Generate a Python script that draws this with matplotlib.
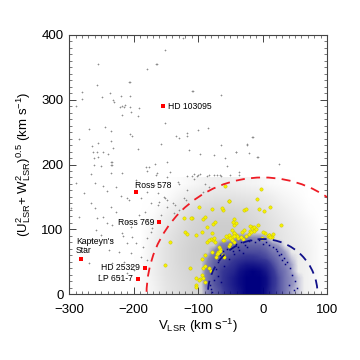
import numpy as np
import matplotlib
matplotlib.use("Agg")
import matplotlib.pyplot as plt
from matplotlib.colors import LinearSegmentedColormap
from matplotlib.patches import Circle

plt.rcParams['font.family'] = ['Liberation Sans', 'DejaVu Sans']
plt.rcParams['mathtext.fontset'] = 'custom'
plt.rcParams['mathtext.rm'] = 'Liberation Sans'
plt.rcParams['mathtext.it'] = 'Liberation Sans:italic'

# halo stars (grey crosses): (V_LSR, sqrt(U^2+W^2))
halo_v = [-123, -151, -256, -180, -165, -205, -257, -280, -280, -289, -249, -236, -232, -230,
          -219, -206, -218, -215, -221, -213, -205, -192, -204, -218, -194, -151, -110, -244,
          -235, -269, -205, -202, -284, -256, -264, -235, -194, -134, -130, -117, -158, -115,
          -263, -257, -247, -240, -232, -262, -255, -235, -235, -149, -101, -167, -207, -164,
          -181, -179, -164, -143, -108, -65, -85, -118, -65, -97, -76, -58, -41, -24, -22, -15,
          -8, 26, -55, -36, -84, -71, -66, -50, -37, -107, -102, -97, -118, -16, -25, -42, -9,
          -261, -250, -233, -233, -266, -235, -218, -289, -260, -277, -247, -241, -227, -220,
          -210, -207, -266, -260, -235, -227, -297, -284, -257, -247, -241, -233, -210, -218,
          -216, -204, -202, -196, -258, -250, -266, -233, -211, -277, -238, -222, -204, -269,
          -233, -215, -204, -253, -222, -211, -199, -188, -180, -186, -180, -191, -183, -179,
          -171, -173, -163, -160, -151, -148, -153, -148, -139, -136, -163, -157, -137, -129,
          -122, -119, -118, -109, -106, -132, -129, -165, -196, -176, -148, -168, -179, -188,
          -173, -100, -86, -76, -65, -93, -84, -90]
halo_y = [395, 377, 355, 348, 355, 327, 323, 312, 301, 290, 304, 310, 299, 296,
          306, 306, 290, 288, 288, 292, 288, 287, 281, 277, 275, 264, 313, 258,
          252, 255, 247, 244, 239, 233, 228, 236, 224, 244, 241, 249, 232, 222,
          219, 219, 220, 217, 225, 210, 211, 204, 200, 204, 253, 201, 328, 187,
          196, 190, 355, 189, 314, 308, 257, 244, 230, 217, 215, 210, 219, 230, 218, 243,
          212, 201, 198, 189, 184, 184, 184, 184, 184, 185, 182, 185, 182, 243, 232, 219, 212,
          199, 198, 204, 200, 185, 187, 187, 171, 171, 156, 167, 159, 165, 151,
          148, 145, 141, 133, 134, 127, 133, 119, 117, 119, 110, 107, 111, 94,
          90, 103, 88, 79, 99, 91, 83, 83, 79, 71, 68, 65, 63, 48,
          48, 49, 43, 29, 26, 32, 37, 57, 53, 73, 86, 122, 127, 114,
          102, 141, 138, 142, 148, 146, 150, 134, 140, 137, 156, 122, 125, 130,
          148, 145, 161, 182, 178, 173, 170, 184, 176, 196, 181, 168, 158, 148,
          96, 184, 182, 184, 182, 158, 165, 170]

# thick disk stars (yellow)
thick_v = [-58, -99, -78, -109, -52, -61, -86, -94, -78, -77, -80, -74, -75, -56, -60, -52, -57,
           -69, -66, -71, -62, -60, -53, -50, -41, -38, -44, -42, -45, -143, -151, -112, -97,
           -94, -84, -80, -89, -104, -122, -2, -9, 12, 2, 28, -44, -46, -29, -44, -48, -40, -47,
           -17, -12, -8, -20, -14, 4, 8, 0, 10, 14, -22, -18, -26, -30, -34, -45, -111, -53,
           -63, -26, -5, -93, -90, -77, -74, -120, -117, -104, -87, -84, -70, -66, -72, -68,
           -61, -50, -47, -44, -32, -29, -16, -13, -10, -19, 9, 12, 16, -1, -93, -90, -103,
           -99, -104, -92, -94, -89, -78]
thick_y = [167, 134, 132, 117, 144, 130, 104, 96, 94, 83, 85, 80, 87, 88, 84, 92, 90,
           65, 70, 62, 60, 57, 74, 78, 91, 86, 95, 110, 106, 81, 45, 40, 24,
           29, 40, 36, 19, 14, 117, 162, 147, 134, 129, 107, 116, 112, 130, 94, 99, 90, 88,
           103, 100, 106, 98, 97, 94, 90, 96, 92, 88, 93, 96, 89, 85, 88, 80, 117, 143,
           133, 131, 131, 116, 119, 108, 111, 96, 93, 91, 80, 83, 63, 67, 58, 72,
           83, 86, 84, 89, 96, 99, 102, 104, 101, 105, 91, 88, 93, 86, 40, 44, 25,
           22, 11, 25, 54, 60, 65]

# special stars (red squares)
star_names = ['HD 103095', 'Ross 578', 'Ross 769', "Kapteyn's\nStar", 'HD 25329', 'LP 651-7']
star_v = [-154, -196, -161, -282, -183, -194]
star_y = [290, 157, 111, 54, 41, 24]

# background sample density (light grey), cell centres
grey_vc = [-190, -170, -150, -130, -110, -90, -70, -50, -30, -10, 10, 30, 50, 70, 90]
grey_yc = [10, 30, 50, 70, 90, 110, 130, 150, 170]
grey_dens = [
    [0.05, 0.25, 0.50, 0.65, 0.80, 0.85, 0.85, 0.80, 0.75, 0.70, 0.60, 0.50, 0.40, 0.25, 0.05],
    [0.05, 0.30, 0.55, 0.70, 0.85, 0.90, 0.90, 0.85, 0.80, 0.70, 0.60, 0.50, 0.40, 0.25, 0.05],
    [0.05, 0.30, 0.55, 0.75, 0.90, 0.95, 0.95, 0.90, 0.85, 0.75, 0.60, 0.50, 0.40, 0.25, 0.05],
    [0.00, 0.30, 0.55, 0.75, 0.90, 1.00, 1.00, 0.95, 0.90, 0.80, 0.65, 0.50, 0.40, 0.25, 0.05],
    [0.00, 0.25, 0.50, 0.70, 0.85, 0.95, 1.00, 1.00, 0.95, 0.80, 0.65, 0.50, 0.35, 0.20, 0.05],
    [0.00, 0.15, 0.40, 0.60, 0.80, 0.90, 0.95, 0.95, 0.85, 0.75, 0.60, 0.45, 0.30, 0.15, 0.00],
    [0.00, 0.05, 0.25, 0.45, 0.65, 0.75, 0.80, 0.80, 0.75, 0.65, 0.50, 0.35, 0.20, 0.05, 0.00],
    [0.00, 0.00, 0.05, 0.25, 0.40, 0.50, 0.55, 0.55, 0.50, 0.45, 0.35, 0.20, 0.10, 0.00, 0.00],
    [0.00, 0.00, 0.00, 0.05, 0.15, 0.25, 0.30, 0.30, 0.25, 0.20, 0.10, 0.05, 0.00, 0.00, 0.00],
]

# thin disk density (navy), cell centres
thin_vc = [-95, -85, -75, -65, -55, -45, -35, -25, -15, -5, 5, 15, 25, 35, 45, 55, 65]
thin_yc = [5, 15, 25, 35, 45, 55, 65, 75, 85, 95]
thin_dens = [
    [0, 0.15, 0.30, 0.40, 0.55, 0.70, 0.85, 1.00, 1.00, 1.00, 0.85, 0.55, 0.40, 0.25, 0.10, 0.05, 0],
    [0, 0.20, 0.35, 0.45, 0.60, 0.75, 0.90, 1.00, 1.00, 1.00, 0.90, 0.60, 0.40, 0.25, 0.15, 0.05, 0],
    [0, 0.20, 0.35, 0.45, 0.60, 0.75, 0.90, 1.00, 1.00, 1.00, 0.90, 0.60, 0.40, 0.25, 0.15, 0.05, 0],
    [0, 0.20, 0.30, 0.45, 0.55, 0.65, 0.85, 0.95, 1.00, 0.95, 0.80, 0.55, 0.35, 0.25, 0.10, 0.00, 0],
    [0, 0.15, 0.30, 0.40, 0.45, 0.55, 0.70, 0.80, 0.80, 0.75, 0.65, 0.45, 0.30, 0.20, 0.10, 0.00, 0],
    [0, 0.10, 0.25, 0.30, 0.40, 0.45, 0.50, 0.55, 0.55, 0.50, 0.45, 0.35, 0.25, 0.15, 0.05, 0.00, 0],
    [0, 0.00, 0.15, 0.25, 0.30, 0.35, 0.40, 0.40, 0.40, 0.40, 0.35, 0.25, 0.20, 0.10, 0.00, 0.00, 0],
    [0, 0.00, 0.00, 0.15, 0.20, 0.25, 0.30, 0.30, 0.30, 0.30, 0.25, 0.15, 0.10, 0.00, 0.00, 0.00, 0],
    [0, 0.00, 0.00, 0.00, 0.00, 0.05, 0.15, 0.15, 0.15, 0.15, 0.10, 0.00, 0.00, 0.00, 0.00, 0.00, 0],
    [0, 0, 0, 0, 0, 0, 0, 0, 0, 0, 0, 0, 0, 0, 0, 0, 0],
]

# extra thin disk points at the edges of the blob
thin_v = [-80, -76, -72, -70, -66, -62, -58, -55, -50, -46, -42, -38, -33, -28, -22, -18,
          -12, -6, 0, 5, 10, 16, 22, 28, 33, 38, 42, 46, 50, 53, 48, 40, 35, 30, 25, 20,
          -60, -52, -44, -36, -30, -24, -70, -64, -82, -78]
thin_y = [8, 22, 38, 50, 60, 66, 58, 70, 74, 66, 78, 72, 80, 76, 82, 84,
          80, 84, 78, 80, 76, 72, 66, 62, 56, 50, 40, 30, 20, 10, 6, 14, 46, 52, 60, 70,
          44, 54, 62, 68, 64, 72, 28, 18, 14, 4]

R_THICK = 180
R_THIN = 85

fig = plt.figure(figsize=(3.6, 3.6), dpi=100)
ax = fig.add_axes([0.192, 0.183, 0.717, 0.72])

grey_cmap = LinearSegmentedColormap.from_list('g', [(0.8, 0.8, 0.8, 0.0), (0.8, 0.8, 0.8, 1.0)])
navy_cmap = LinearSegmentedColormap.from_list(
    'b', [(0.0, (0.0, 0.0, 0.5, 0.0)), (0.12, (0.0, 0.0, 0.5, 0.35)),
          (0.5, (0.0, 0.0, 0.5, 0.75)), (1.0, (0.0, 0.0, 0.5, 1.0))])

ax.imshow(np.array(grey_dens), origin='lower', cmap=grey_cmap, vmin=0, vmax=1,
          extent=(grey_vc[0] - 10, grey_vc[-1] + 10, 0, grey_yc[-1] + 10),
          interpolation='bilinear', aspect='auto', zorder=1)
ax.imshow(np.array(thin_dens), origin='lower', cmap=navy_cmap, vmin=0, vmax=1,
          extent=(thin_vc[0] - 5, thin_vc[-1] + 5, 0, thin_yc[-1] + 5),
          interpolation='bilinear', aspect='auto', zorder=3)
ax.plot(thin_v, thin_y, 's', color='#000080', ms=1.1, mew=0, zorder=3)

ax.plot(halo_v, halo_y, '+', color='#8c8c8c', ms=2.0, mew=0.45, zorder=2)
ax.plot(thick_v, thick_y, 'o', color='#f5f000', mec='#c8c000', ms=2.4, mew=0.3, zorder=4)

ax.add_patch(Circle((0, 0), R_THICK, fill=False, ec='#ee1c25', lw=1.3, ls=(0, (5, 3.5)), zorder=5))
ax.add_patch(Circle((0, 0), R_THIN, fill=False, ec='#10108a', lw=1.3, ls=(0, (5, 3.5)), zorder=5))

ax.plot(star_v, star_y, 's', color='#ff0000', ms=3.2, mew=0, zorder=6)
offsets = [(3.6, 0, 'left', 'center'), (-0.8, 5.0, 'left', 'center'), (-3.2, 0, 'right', 'center'),
           (-3.3, 3.2, 'left', 'bottom'), (-3.2, 0, 'right', 'center'), (-3.2, 0, 'right', 'center')]
for name, v, y, (dx, dy, ha, va) in zip(star_names, star_v, star_y, offsets):
    ax.annotate(name, (v, y), xytext=(dx, dy), textcoords='offset points',
                ha=ha, va=va, fontsize=6.2, linespacing=0.9, zorder=7)

ax.set_xlim(-300, 100)
ax.set_ylim(0, 400)
ax.set_xticks([-300, -200, -100, 0, 100])
ax.set_yticks([0, 100, 200, 300, 400])
ax.set_xticks(np.arange(-300, 101, 10), minor=True)
ax.set_yticks(np.arange(0, 401, 10), minor=True)
ax.tick_params(which='both', direction='in', top=True, right=True, color='#444444')
ax.tick_params(which='major', length=5, width=0.7, labelsize=9.5)
ax.tick_params(which='minor', length=2.5, width=0.5)
ax.tick_params(axis='x', pad=7)
ax.tick_params(axis='y', pad=4)
for s in ax.spines.values():
    s.set_linewidth(0.8)
    s.set_color('#444444')

ax.set_xlabel(r'V$_{\rm LSR}$ (km s$^{-1}$)', fontsize=9.5, labelpad=1)
ax.set_ylabel(r'(U$^2_{\rm LSR}$+ W$^2_{\rm LSR}$)$^{0.5}$ (km s$^{-1}$)', fontsize=9.5, labelpad=6)

fig.savefig('out.png', dpi=100)
